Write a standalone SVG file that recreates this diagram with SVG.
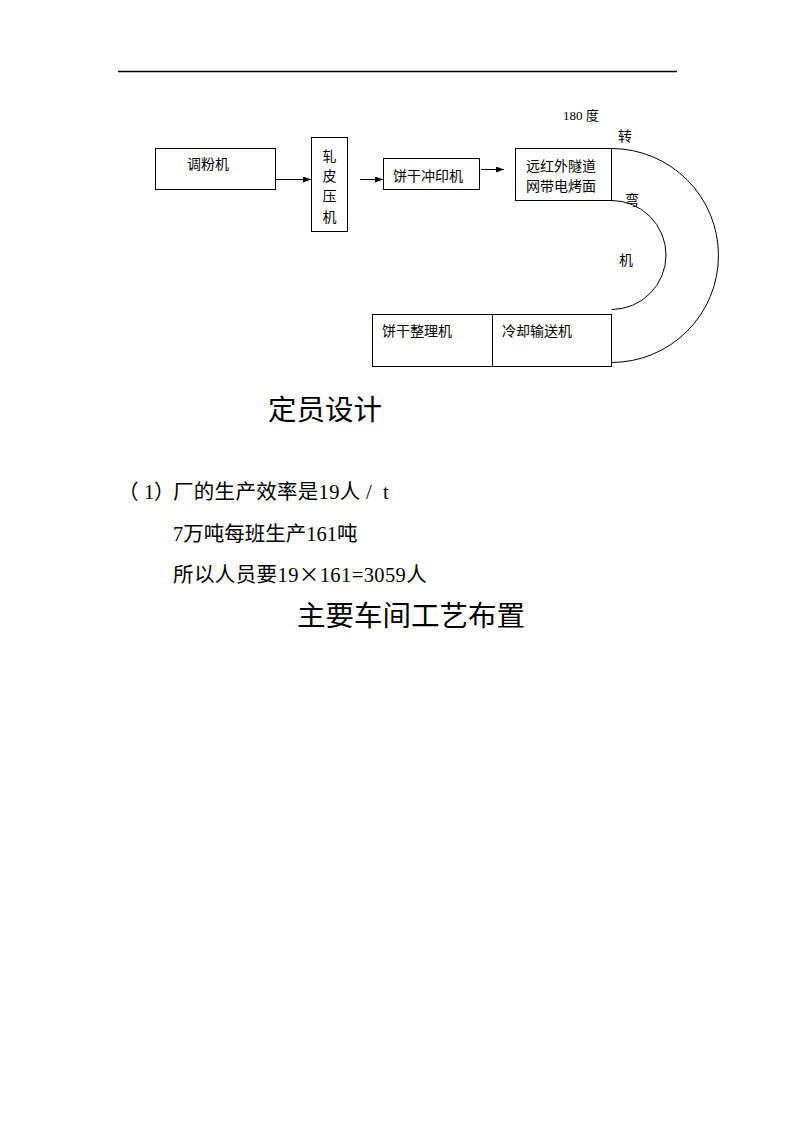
<svg xmlns="http://www.w3.org/2000/svg" width="794" height="1123" viewBox="0 0 794 1123">
<defs>
<style>
.box{fill:#fff;stroke:#000;stroke-width:1}
.ln{fill:none;stroke:#000;stroke-width:1}
.t{font-family:"Noto Sans CJK SC","Noto Sans",sans-serif;font-size:14px;fill:#000}
.s{font-family:"Liberation Serif","Noto Sans CJK SC",serif;font-size:13px;fill:#000}
.b{font-family:"Liberation Serif","Noto Sans CJK SC",serif;font-size:20.5px;fill:#000}
.c{font-family:"Noto Sans CJK SC",sans-serif}
.h{font-family:"Noto Sans CJK SC",serif;font-size:28.5px;fill:#000}
</style>
<marker id="ah" viewBox="0 0 8 6" refX="8" refY="3" markerWidth="8" markerHeight="6" markerUnits="userSpaceOnUse" orient="auto">
<path d="M0,0 L8,3 L0,6 Z" fill="#000"/>
</marker>
</defs>
<rect width="794" height="1123" fill="#fff"/>
<line x1="118" y1="71.5" x2="677" y2="71.5" stroke="#000" stroke-width="1.3"/>

<g id="connectors">
<line class="ln" x1="275" y1="179.5" x2="311" y2="179.5" marker-end="url(#ah)"/>
<line class="ln" x1="360" y1="179.5" x2="383" y2="179.5" marker-end="url(#ah)"/>
<line class="ln" x1="481" y1="169.5" x2="504" y2="169.5" marker-end="url(#ah)"/>
<path class="ln" d="M611.5,148.5 A107,107 0 0 1 611.5,362.5"/>
<path class="ln" d="M611.5,200.5 A54.5,54.5 0 0 1 611.5,309.5"/>
</g>

<g id="n1"><rect class="box" x="155.5" y="148.5" width="120" height="41"/><text class="t" x="187" y="169">调粉机</text></g>
<g id="n2"><rect class="box" x="311.5" y="137.5" width="36" height="94"/>
<text class="t" x="329.5" y="161" text-anchor="middle">轧</text>
<text class="t" x="329.5" y="181" text-anchor="middle">皮</text>
<text class="t" x="329.5" y="201" text-anchor="middle">压</text>
<text class="t" x="329.5" y="222" text-anchor="middle">机</text></g>
<g id="n3"><rect class="box" x="383.5" y="158.5" width="96" height="31"/><text class="t" x="393" y="181">饼干冲印机</text></g>
<g id="n4"><rect class="box" x="515.5" y="148.5" width="96" height="52"/><text class="t" x="526" y="171">远红外隧道</text><text class="t" x="526" y="191">网带电烤面</text></g>
<g id="n5"><rect class="box" x="372.5" y="314.5" width="120" height="52"/><text class="t" x="382" y="336">饼干整理机</text></g>
<g id="n6"><rect class="box" x="492.5" y="314.5" width="119" height="52"/><text class="t" x="502" y="336">冷却输送机</text></g>

<g id="labels">
<text class="s" x="563" y="120">180 度</text>
<text class="t" x="618" y="141">转</text>
<text class="t" x="625" y="205">弯</text>
<text class="t" x="619" y="265">机</text>
</g>

<g id="body">
<text class="h" x="268" y="420">定员设计</text>
<text class="b c" x="118" y="499">（</text>
<text class="b" x="144" y="499">1</text>
<text class="b c" x="154" y="499">）</text>
<text class="b" x="173" y="499" letter-spacing="0.3">厂的生产效率是19人</text>
<text class="b" x="366" y="499">/</text>
<text class="b" x="383" y="499">t</text>
<text class="b" x="173" y="541">7万吨每班生产161吨</text>
<text class="b" x="173" y="582" letter-spacing="0.4">所以人员要19<tspan class="c">×</tspan>161=3059人</text>
<text class="h" x="297" y="626">主要车间工艺布置</text>
</g>
</svg>
